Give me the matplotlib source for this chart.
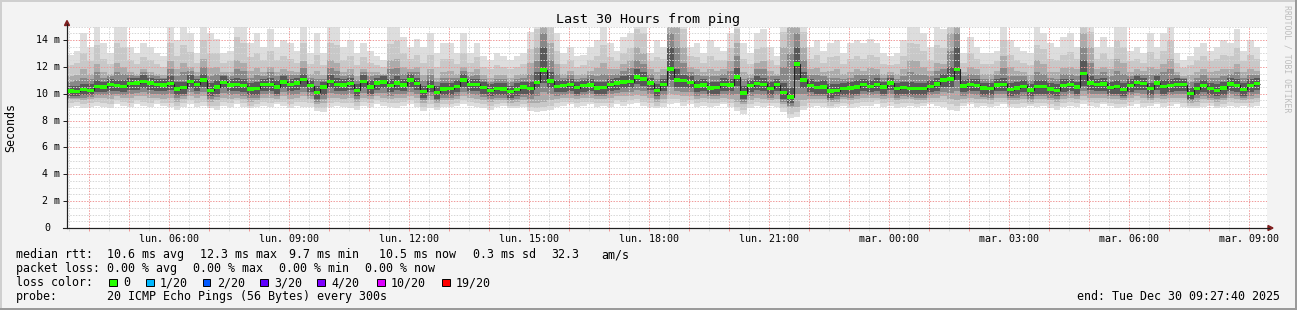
import matplotlib.pyplot as plt
import numpy as np
from matplotlib.lines import Line2D
from matplotlib.patches import Polygon, Rectangle
from matplotlib.ticker import MultipleLocator, FuncFormatter
import matplotlib.transforms as mtransforms

# --- Data: round-trip times in ms, one value per 10-minute step ---
end_hour = 24 + 9 + 27 / 60 + 40 / 3600   # Tue 09:27:40, hours since Mon 00:00
span_hours = 30
step_hours = 10 / 60

median = [
    10.2, 10.17, 10.3, 10.25, 10.55, 10.5, 10.7, 10.6, 10.55, 10.75, 10.8, 10.9, 10.8, 10.7, 10.65,
    10.75, 10.35, 10.45, 10.9, 10.7, 11.0, 10.25, 10.5, 10.85, 10.65, 10.7, 10.6, 10.35, 10.4, 10.7,
    10.7, 10.5, 10.87, 10.7, 10.8, 11.05, 10.6, 10.1, 10.5, 10.9, 10.7, 10.65, 10.75, 10.25, 10.9,
    10.5, 10.8, 10.87, 10.6, 10.8, 10.65, 11.0, 10.75, 10.17, 10.55, 10.1, 10.35, 10.37, 10.55, 11.0,
    10.67, 10.7, 10.45, 10.25, 10.37, 10.35, 10.17, 10.3, 10.5, 10.37, 10.85, 11.75, 10.95, 10.55, 10.6,
    10.67, 10.45, 10.6, 10.65, 10.42, 10.47, 10.67, 10.8, 10.87, 10.9, 11.25, 11.1, 10.8, 10.25, 10.67,
    11.85, 11.0, 10.97, 10.85, 10.57, 10.65, 10.42, 10.47, 10.7, 10.65, 11.25, 10.05, 10.6, 10.77, 10.7,
    10.4, 10.67, 10.07, 9.75, 12.2, 11.0, 10.6, 10.47, 10.5, 10.2, 10.22, 10.37, 10.42, 10.5, 10.67,
    10.55, 10.7, 10.5, 10.8, 10.37, 10.45, 10.4, 10.37, 10.37, 10.55, 10.72, 11.0, 11.1, 11.8, 10.57,
    10.7, 10.62, 10.42, 10.37, 10.65, 10.7, 10.3, 10.42, 10.55, 10.27, 10.52, 10.52, 10.35, 10.25, 10.62,
    10.67, 10.5, 11.5, 10.8, 10.67, 10.72, 10.45, 10.52, 10.3, 10.62, 10.82, 10.75, 10.37, 10.8, 10.52,
    10.62, 10.7, 10.67, 10.0, 10.37, 10.6, 10.37, 10.25, 10.42, 10.72, 10.62, 10.32, 10.62, 10.75,
]
ping_max = [
    12.9, 13.2, 14.5, 13.5, 15.5, 13.8, 13.0, 15.5, 15.5, 13.5, 13.0, 13.8, 13.5, 13.0, 12.8,
    15.5, 14.0, 15.5, 14.5, 13.0, 15.5, 14.5, 14.1, 13.0, 13.2, 15.5, 15.5, 13.8, 14.5, 13.5,
    14.8, 13.5, 14.0, 13.8, 13.2, 15.5, 13.0, 14.5, 13.0, 15.5, 15.5, 13.5, 14.0, 13.0, 13.8,
    13.2, 12.8, 12.5, 15.5, 15.5, 14.2, 13.5, 14.1, 13.5, 14.5, 13.0, 13.8, 13.8, 13.0, 14.5,
    13.0, 13.8, 12.8, 12.5, 13.0, 12.8, 12.5, 12.8, 13.0, 14.6, 15.5, 15.5, 15.5, 14.5, 13.0,
    13.5, 12.8, 12.9, 13.5, 14.0, 15.5, 13.8, 13.2, 14.2, 14.5, 15.5, 15.5, 13.0, 14.0, 13.5,
    15.5, 15.5, 15.5, 13.5, 13.8, 13.0, 14.0, 13.5, 13.2, 14.5, 15.5, 13.8, 13.0, 14.5, 14.8,
    13.5, 12.8, 15.5, 15.5, 15.5, 15.5, 13.5, 14.0, 13.2, 13.8, 14.0, 13.0, 13.8, 14.0, 13.8,
    14.1, 13.8, 13.0, 12.8, 13.0, 14.0, 15.5, 15.5, 14.5, 13.5, 15.0, 14.8, 15.5, 15.5, 13.0,
    14.2, 13.5, 13.0, 13.0, 13.2, 15.5, 14.0, 13.5, 13.2, 13.0, 15.0, 14.5, 13.8, 13.5, 14.2,
    14.5, 13.5, 15.5, 15.5, 13.5, 14.2, 13.5, 15.5, 15.0, 13.2, 13.5, 13.0, 14.5, 13.5, 14.5,
    15.5, 13.0, 12.5, 12.8, 13.5, 13.8, 13.2, 13.5, 14.0, 13.8, 14.8, 13.2, 14.0, 13.5,
]
ping_p90 = [
    12.1, 12.3, 13.0, 12.4, 13.6, 12.6, 12.2, 13.8, 13.5, 12.5, 12.2, 12.7, 12.5, 12.2, 12.0,
    13.8, 12.8, 13.6, 13.1, 12.3, 14.0, 13.0, 13.0, 12.3, 12.4, 14.2, 13.8, 12.7, 13.0, 12.5,
    13.2, 12.5, 12.8, 12.6, 12.3, 13.8, 12.2, 12.9, 12.1, 13.8, 13.6, 12.5, 12.8, 12.1, 12.7,
    12.3, 12.1, 12.0, 13.7, 13.9, 13.0, 12.6, 12.9, 12.3, 12.9, 12.0, 12.6, 12.6, 12.2, 13.0,
    12.3, 12.7, 12.0, 11.8, 12.1, 12.0, 11.8, 12.0, 12.2, 13.3, 14.8, 15.5, 15.0, 13.2, 12.2,
    12.5, 12.0, 12.1, 12.5, 12.8, 13.6, 12.7, 12.4, 13.0, 13.4, 14.8, 14.5, 12.4, 12.7, 12.6,
    15.5, 15.5, 14.8, 12.8, 12.7, 12.3, 12.8, 12.5, 12.5, 13.4, 14.8, 12.6, 12.2, 13.3, 13.5,
    12.5, 12.1, 14.6, 15.5, 15.5, 14.6, 12.6, 12.9, 12.3, 12.7, 12.8, 12.2, 12.6, 12.8, 12.6,
    12.9, 12.7, 12.2, 12.1, 12.2, 12.8, 13.8, 13.7, 13.2, 12.5, 13.6, 13.4, 15.2, 15.5, 12.3,
    13.0, 12.6, 12.2, 12.2, 12.4, 14.0, 12.9, 12.5, 12.3, 12.1, 13.6, 13.3, 12.6, 12.5, 12.9,
    13.1, 12.6, 15.2, 14.6, 12.6, 13.0, 12.6, 13.9, 13.5, 12.4, 12.6, 12.3, 13.1, 12.6, 13.2,
    13.9, 12.3, 11.9, 12.1, 12.5, 12.8, 12.4, 12.6, 12.9, 12.8, 13.4, 12.4, 12.9, 12.6,
]
ping_p80 = [
    11.3, 11.4, 11.8, 11.5, 12.2, 11.6, 11.5, 12.3, 12.0, 11.6, 11.5, 11.8, 11.6, 11.5, 11.4,
    12.4, 11.8, 12.3, 12.0, 11.6, 12.6, 11.9, 12.0, 11.6, 11.6, 12.5, 12.3, 11.7, 11.9, 11.6,
    12.0, 11.6, 11.8, 11.7, 11.6, 12.4, 11.5, 11.7, 11.4, 12.5, 12.3, 11.6, 11.8, 11.3, 11.8,
    11.6, 11.6, 11.5, 12.5, 12.6, 12.0, 11.8, 12.0, 11.4, 11.8, 11.2, 11.6, 11.7, 11.5, 12.0,
    11.6, 11.8, 11.4, 11.2, 11.4, 11.4, 11.2, 11.4, 11.5, 12.3, 13.5, 15.5, 13.8, 12.2, 11.5,
    11.7, 11.4, 11.5, 11.7, 11.9, 12.3, 11.8, 11.8, 12.2, 12.5, 13.5, 13.0, 11.8, 11.6, 11.8,
    15.5, 15.5, 13.5, 12.0, 11.8, 11.6, 11.8, 11.7, 11.8, 12.4, 13.8, 11.6, 11.5, 12.3, 12.4,
    11.7, 11.5, 13.5, 15.5, 15.5, 13.5, 11.8, 11.9, 11.6, 11.7, 11.8, 11.5, 11.6, 11.8, 11.7,
    11.9, 11.8, 11.5, 11.6, 11.5, 11.8, 12.5, 12.4, 12.0, 11.7, 12.3, 12.2, 14.5, 15.5, 11.6,
    12.0, 11.8, 11.5, 11.5, 11.7, 12.8, 12.0, 11.7, 11.6, 11.4, 12.5, 12.2, 11.6, 11.6, 11.9,
    12.0, 11.8, 14.5, 13.5, 11.8, 12.0, 11.8, 12.6, 12.3, 11.6, 11.8, 11.7, 12.0, 11.8, 12.2,
    12.6, 11.6, 11.3, 11.4, 11.6, 11.8, 11.6, 11.7, 11.8, 11.8, 12.2, 11.6, 11.8, 11.7,
]
ping_p70 = [
    10.9, 11.0, 11.2, 11.1, 11.6, 11.2, 11.3, 11.6, 11.5, 11.4, 11.3, 11.6, 11.4, 11.3, 11.2,
    11.8, 11.3, 11.6, 11.7, 11.3, 12.0, 11.3, 11.5, 11.4, 11.3, 11.8, 11.7, 11.2, 11.4, 11.3,
    11.6, 11.3, 11.5, 11.4, 11.4, 11.9, 11.2, 11.1, 11.1, 11.9, 11.7, 11.3, 11.5, 11.0, 11.6,
    11.3, 11.4, 11.4, 11.8, 11.9, 11.5, 11.6, 11.6, 11.0, 11.4, 10.9, 11.2, 11.2, 11.2, 11.7,
    11.3, 11.4, 11.1, 10.9, 11.1, 11.1, 10.9, 11.1, 11.2, 11.5, 12.4, 14.5, 12.5, 11.5, 11.2,
    11.4, 11.1, 11.2, 11.4, 11.3, 11.5, 11.4, 11.5, 11.7, 11.9, 12.5, 12.2, 11.5, 11.1, 11.4,
    14.5, 13.5, 12.3, 11.6, 11.4, 11.3, 11.3, 11.3, 11.5, 11.7, 12.8, 11.1, 11.2, 11.8, 11.8,
    11.3, 11.3, 12.0, 13.0, 14.5, 12.5, 11.4, 11.4, 11.3, 11.2, 11.2, 11.1, 11.2, 11.4, 11.4,
    11.4, 11.5, 11.2, 11.4, 11.1, 11.3, 11.6, 11.5, 11.4, 11.3, 11.7, 11.8, 13.2, 14.5, 11.3,
    11.5, 11.4, 11.1, 11.1, 11.4, 11.9, 11.3, 11.3, 11.3, 11.0, 11.6, 11.5, 11.2, 11.1, 11.5,
    11.5, 11.3, 13.5, 12.3, 11.4, 11.6, 11.3, 11.7, 11.5, 11.3, 11.5, 11.4, 11.4, 11.5, 11.6,
    11.8, 11.4, 11.2, 10.9, 11.2, 11.4, 11.2, 11.2, 11.3, 11.5, 11.6, 11.2, 11.4, 11.4,
]
ping_p60 = [
    10.6, 10.6, 10.7, 10.7, 11.0, 10.9, 11.1, 11.0, 11.0, 11.2, 11.2, 11.4, 11.2, 11.1, 11.1,
    11.3, 10.9, 10.9, 11.4, 11.1, 11.5, 10.8, 11.0, 11.3, 11.1, 11.2, 11.1, 10.8, 10.9, 11.1,
    11.2, 11.0, 11.3, 11.1, 11.2, 11.5, 11.0, 10.6, 10.9, 11.4, 11.2, 11.1, 11.2, 10.7, 11.4,
    11.0, 11.2, 11.3, 11.1, 11.3, 11.1, 11.5, 11.2, 10.6, 11.0, 10.6, 10.8, 10.8, 11.0, 11.5,
    11.1, 11.1, 10.9, 10.7, 10.8, 10.8, 10.6, 10.8, 10.9, 10.9, 11.6, 13.5, 11.6, 11.0, 11.0,
    11.1, 10.9, 11.0, 11.1, 10.9, 10.9, 11.1, 11.2, 11.3, 11.4, 11.8, 11.6, 11.2, 10.7, 11.1,
    13.5, 11.8, 11.4, 11.3, 11.0, 11.1, 10.9, 10.9, 11.2, 11.1, 11.9, 10.6, 11.0, 11.3, 11.2,
    10.9, 11.1, 10.8, 10.5, 13.5, 11.6, 11.1, 10.9, 11.0, 10.7, 10.7, 10.8, 10.9, 11.0, 11.1,
    11.0, 11.2, 10.9, 11.2, 10.8, 10.9, 10.9, 10.8, 10.8, 11.0, 11.2, 11.5, 12.0, 13.5, 11.0,
    11.1, 11.1, 10.8, 10.8, 11.1, 11.2, 10.8, 10.9, 11.0, 10.7, 11.0, 11.0, 10.8, 10.7, 11.1,
    11.1, 10.9, 12.5, 11.3, 11.1, 11.2, 10.9, 11.0, 10.8, 11.1, 11.3, 11.2, 10.8, 11.3, 11.0,
    11.1, 11.2, 11.1, 10.5, 10.8, 11.0, 10.8, 10.7, 10.9, 11.2, 11.1, 10.8, 11.1, 11.2,
]
ping_p40 = [
    9.8, 9.8, 9.9, 9.9, 10.1, 10.1, 10.2, 10.2, 10.1, 10.3, 10.3, 10.4, 10.3, 10.2, 10.2,
    10.3, 9.9, 10.0, 10.4, 10.2, 10.5, 9.8, 10.0, 10.4, 10.2, 10.2, 10.1, 9.9, 9.9, 10.2,
    10.2, 10.0, 10.4, 10.2, 10.3, 10.5, 10.1, 9.6, 9.9, 10.4, 10.2, 10.2, 10.3, 9.8, 10.4,
    10.0, 10.3, 10.4, 10.1, 10.3, 10.2, 10.5, 10.3, 9.7, 10.1, 9.6, 9.9, 9.9, 10.1, 10.5,
    10.2, 10.2, 10.0, 9.8, 9.9, 9.9, 9.7, 9.8, 10.0, 9.9, 10.4, 10.8, 10.4, 10.1, 10.1,
    10.2, 10.0, 10.1, 10.2, 10.0, 10.0, 10.2, 10.3, 10.4, 10.4, 10.7, 10.6, 10.3, 9.8, 10.2,
    11.0, 10.5, 10.5, 10.4, 10.1, 10.2, 10.0, 10.0, 10.2, 10.2, 10.6, 9.6, 10.1, 10.3, 10.2,
    9.9, 10.2, 9.6, 9.3, 11.0, 10.4, 10.1, 10.0, 10.0, 9.7, 9.8, 9.9, 9.9, 10.0, 10.2,
    10.1, 10.2, 10.0, 10.3, 9.9, 10.0, 9.9, 9.9, 9.9, 10.1, 10.2, 10.5, 10.5, 11.0, 10.1,
    10.2, 10.2, 9.9, 9.9, 10.2, 10.2, 9.8, 9.9, 10.1, 9.8, 10.0, 10.0, 9.9, 9.8, 10.1,
    10.2, 10.0, 10.6, 10.3, 10.2, 10.2, 10.0, 10.0, 9.8, 10.1, 10.3, 10.3, 9.9, 10.3, 10.0,
    10.1, 10.2, 10.2, 9.6, 9.9, 10.1, 9.9, 9.8, 9.9, 10.2, 10.1, 9.8, 10.1, 10.3,
]
ping_p30 = [
    9.7, 9.7, 9.7, 9.75, 9.9, 9.9, 9.9, 10.0, 9.9, 10.0, 10.05, 10.1, 10.0, 9.95, 9.9,
    10.0, 9.65, 9.8, 10.1, 9.95, 10.15, 9.6, 9.75, 10.05, 9.9, 9.95, 9.85, 9.65, 9.7, 9.95,
    9.95, 9.8, 10.1, 9.9, 10.0, 10.15, 9.85, 9.4, 9.6, 10.05, 9.95, 9.9, 10.0, 9.6, 10.05,
    9.8, 10.05, 10.05, 9.85, 10.0, 9.95, 10.15, 10.0, 9.5, 9.8, 9.45, 9.7, 9.7, 9.85, 10.15,
    9.95, 9.9, 9.75, 9.6, 9.7, 9.7, 9.5, 9.6, 9.75, 9.6, 9.85, 10.1, 9.95, 9.85, 9.9,
    9.95, 9.8, 9.9, 9.95, 9.8, 9.8, 9.95, 10.05, 10.1, 10.1, 10.3, 10.2, 10.0, 9.6, 9.9,
    10.5, 10.2, 10.15, 10.1, 9.85, 9.95, 9.8, 9.8, 9.95, 9.9, 10.0, 9.4, 9.8, 10.0, 9.9,
    9.7, 9.9, 9.4, 9.1, 10.0, 9.95, 9.85, 9.8, 9.8, 9.55, 9.6, 9.75, 9.7, 9.8, 9.95,
    9.9, 9.95, 9.8, 10.0, 9.7, 9.8, 9.75, 9.7, 9.7, 9.9, 9.95, 10.15, 10.05, 10.2, 9.85,
    9.95, 9.9, 9.75, 9.7, 9.95, 9.95, 9.65, 9.7, 9.85, 9.6, 9.8, 9.8, 9.7, 9.6, 9.85,
    9.95, 9.8, 10.2, 10.0, 9.95, 9.95, 9.8, 9.8, 9.65, 9.9, 10.05, 10.0, 9.7, 10.0, 9.8,
    9.9, 9.95, 9.95, 9.45, 9.65, 9.85, 9.7, 9.6, 9.7, 9.95, 9.85, 9.65, 9.85, 10.0,
]
ping_p20 = [
    9.6, 9.6, 9.5, 9.6, 9.7, 9.7, 9.6, 9.8, 9.7, 9.7, 9.8, 9.8, 9.7, 9.7, 9.6,
    9.7, 9.4, 9.6, 9.8, 9.7, 9.8, 9.4, 9.5, 9.7, 9.6, 9.7, 9.6, 9.4, 9.5, 9.7,
    9.7, 9.6, 9.8, 9.6, 9.7, 9.8, 9.6, 9.2, 9.3, 9.7, 9.7, 9.6, 9.7, 9.4, 9.7,
    9.6, 9.8, 9.7, 9.6, 9.7, 9.7, 9.8, 9.7, 9.3, 9.5, 9.3, 9.5, 9.5, 9.6, 9.8,
    9.7, 9.6, 9.5, 9.4, 9.5, 9.5, 9.3, 9.4, 9.5, 9.3, 9.3, 9.4, 9.5, 9.6, 9.7,
    9.7, 9.6, 9.7, 9.7, 9.6, 9.6, 9.7, 9.8, 9.8, 9.8, 9.9, 9.8, 9.7, 9.4, 9.6,
    10.0, 9.9, 9.8, 9.8, 9.6, 9.7, 9.6, 9.6, 9.7, 9.6, 9.4, 9.2, 9.5, 9.7, 9.6,
    9.5, 9.6, 9.2, 8.9, 9.0, 9.5, 9.6, 9.6, 9.6, 9.4, 9.4, 9.6, 9.5, 9.6, 9.7,
    9.7, 9.7, 9.6, 9.7, 9.5, 9.6, 9.6, 9.5, 9.5, 9.7, 9.7, 9.8, 9.6, 9.5, 9.6,
    9.7, 9.6, 9.6, 9.5, 9.7, 9.7, 9.5, 9.5, 9.6, 9.4, 9.6, 9.6, 9.5, 9.4, 9.6,
    9.7, 9.6, 9.8, 9.7, 9.7, 9.7, 9.6, 9.6, 9.5, 9.7, 9.8, 9.7, 9.5, 9.7, 9.6,
    9.7, 9.7, 9.7, 9.3, 9.4, 9.6, 9.5, 9.4, 9.5, 9.7, 9.6, 9.5, 9.6, 9.7,
]
ping_p10 = [
    9.3, 9.4, 9.2, 9.3, 9.4, 9.3, 9.2, 9.5, 9.4, 9.3, 9.5, 9.4, 9.3, 9.5, 9.3,
    9.3, 9.1, 9.3, 9.5, 9.3, 9.4, 9.1, 9.1, 9.4, 9.3, 9.5, 9.3, 9.1, 9.2, 9.4,
    9.3, 9.4, 9.4, 9.2, 9.4, 9.4, 9.3, 8.9, 8.9, 9.3, 9.4, 9.3, 9.3, 9.1, 9.4,
    9.3, 9.5, 9.4, 9.3, 9.3, 9.4, 9.5, 9.3, 9.0, 9.2, 9.0, 9.2, 9.2, 9.3, 9.5,
    9.4, 9.3, 9.2, 9.1, 9.2, 9.3, 9.1, 9.1, 9.2, 9.0, 8.9, 9.0, 9.1, 9.3, 9.4,
    9.4, 9.3, 9.4, 9.4, 9.3, 9.3, 9.3, 9.5, 9.4, 9.5, 9.6, 9.4, 9.3, 9.1, 9.3,
    9.6, 9.6, 9.4, 9.5, 9.3, 9.4, 9.3, 9.3, 9.4, 9.3, 9.0, 8.8, 9.2, 9.4, 9.3,
    9.3, 9.3, 8.9, 8.5, 8.6, 9.1, 9.3, 9.3, 9.3, 9.1, 9.2, 9.3, 9.2, 9.3, 9.4,
    9.4, 9.5, 9.3, 9.4, 9.2, 9.3, 9.3, 9.2, 9.3, 9.4, 9.4, 9.4, 9.2, 9.1, 9.3,
    9.4, 9.3, 9.3, 9.2, 9.4, 9.4, 9.2, 9.2, 9.3, 9.2, 9.3, 9.3, 9.2, 9.1, 9.3,
    9.4, 9.3, 9.5, 9.4, 9.3, 9.4, 9.3, 9.2, 9.2, 9.4, 9.5, 9.3, 9.3, 9.4, 9.3,
    9.4, 9.4, 9.3, 9.1, 9.1, 9.3, 9.3, 9.1, 9.2, 9.4, 9.3, 9.3, 9.3, 9.4,
]
ping_min = [
    9.0, 9.1, 8.9, 9.0, 9.1, 9.0, 8.9, 9.2, 9.1, 9.0, 9.2, 9.1, 9.0, 9.2, 9.1,
    9.0, 8.8, 9.0, 9.2, 9.0, 9.1, 8.9, 8.8, 9.1, 9.0, 9.2, 9.0, 8.9, 9.0, 9.1,
    9.0, 9.2, 9.1, 8.9, 9.1, 9.0, 9.0, 8.7, 8.6, 9.0, 9.1, 9.0, 8.9, 8.8, 9.1,
    9.0, 9.2, 9.1, 9.0, 8.9, 9.1, 9.2, 9.0, 8.7, 8.9, 8.8, 9.0, 9.0, 9.1, 9.2,
    9.1, 9.0, 8.9, 8.8, 9.0, 9.1, 8.9, 8.9, 9.0, 8.7, 8.6, 8.7, 8.8, 9.0, 9.1,
    9.2, 9.0, 9.1, 9.2, 9.0, 9.1, 9.0, 9.2, 9.1, 9.2, 9.3, 9.1, 9.0, 8.9, 9.0,
    9.2, 9.3, 9.1, 9.2, 9.0, 9.1, 9.0, 9.1, 9.2, 9.0, 8.7, 8.5, 8.9, 9.1, 9.0,
    9.1, 9.0, 8.6, 8.2, 8.3, 8.8, 9.0, 9.1, 9.0, 8.9, 9.0, 9.1, 8.9, 9.0, 9.1,
    9.1, 9.2, 9.0, 9.1, 8.9, 9.0, 9.1, 9.0, 9.1, 9.2, 9.1, 9.0, 8.8, 8.7, 9.1,
    9.2, 9.0, 9.1, 9.0, 9.1, 9.2, 9.0, 8.9, 9.0, 9.1, 9.0, 9.1, 8.9, 8.8, 9.0,
    9.1, 9.0, 9.2, 9.1, 9.0, 9.2, 9.1, 8.9, 9.0, 9.1, 9.2, 9.0, 9.1, 9.2, 9.0,
    9.1, 9.2, 9.0, 8.9, 8.9, 9.0, 9.1, 8.9, 9.0, 9.1, 9.0, 9.1, 9.0, 9.1,
]

loss_labels = ["0", "1/20", "2/20", "3/20", "4/20", "10/20", "19/20"]
loss_colors = ["#26ff00", "#00b8ff", "#0059ff", "#5e00ff", "#7e00ff", "#dd00ff", "#ff0000"]

rtt_stats = ["10.6 ms avg", "12.3 ms max", "9.7 ms min", "10.5 ms now", "0.3 ms sd", "32.3", "am/s"]
loss_stats = ["0.00 % avg", "0.00 % max", "0.00 % min", "0.00 % now"]
day_names = ["lun.", "mar."]

# --- Layout helpers (pixel coordinates of the 1297x310 canvas) ---
W, H = 1297, 310
plt.rcParams["font.family"] = "DejaVu Sans Mono"


def fx(x):
    return x / W


def fy(y):
    return 1 - y / H


fig = plt.figure(figsize=(W / 100, H / 100), dpi=100, facecolor="#F3F3F3")
ax = fig.add_axes([fx(67), fy(228), 1200 / W, 201.5 / H])
ax.set_facecolor("white")

start_hour = end_hour - span_hours
edges = start_hour + np.arange(len(median) + 1) * step_hours
med = np.array(median)

# smoke: pairs of ping ranks, lightest outside
smoke = [
    (ping_max, ping_min, "#DDDDDD"),
    (ping_p90, ping_p10, "#C8C8C8"),
    (ping_p80, ping_p20, "#ABABAB"),
    (ping_p70, ping_p30, "#888888"),
    (ping_p60, ping_p40, "#585858"),
]
for k, (top, bot, col) in enumerate(smoke):
    ax.stairs(top, edges, baseline=bot, fill=True, color=col, lw=0, zorder=1 + k * 0.1)

# median line + loss-coloured marker
ax.stairs(med, edges, baseline=None, color="#202020", lw=0.8, zorder=3)
ax.stairs(med + 0.13, edges, baseline=med - 0.13, fill=True, color=loss_colors[0], lw=0, zorder=4)

ax.set_xlim(start_hour, end_hour)
ax.set_ylim(0, 15)


def hour_label(h, pos):
    h = int(round(h))
    if h % 3:
        return ""
    return f"{day_names[h // 24]} {h % 24:02d}:00"


ax.xaxis.set_major_locator(MultipleLocator(1))
ax.xaxis.set_minor_locator(MultipleLocator(0.5))
ax.xaxis.set_major_formatter(FuncFormatter(hour_label))
ax.yaxis.set_major_locator(MultipleLocator(2))
ax.yaxis.set_minor_locator(MultipleLocator(0.5))
ax.yaxis.set_major_formatter(FuncFormatter(lambda v, p: ""))

ax.set_axisbelow(False)
ax.grid(which="major", color="#F09A9A", ls=(0, (1.4, 1.4)), lw=0.72, snap=True)
ax.grid(which="minor", color="#D6D6D6", ls=(0, (1.4, 1.4)), lw=0.72, snap=True)

ax.tick_params(axis="x", which="major", length=2, width=0.72, color="#F09A9A",
               labelsize=7.2, pad=2.4)
ax.tick_params(axis="x", which="minor", length=2, width=0.72, color="#D6D6D6")
ax.tick_params(axis="y", which="major", length=3, width=0.72, color="#202020")
ax.tick_params(axis="y", which="minor", length=0)

# y tick labels placed like rrdtool ("0" without unit)
ylab_tr = mtransforms.blended_transform_factory(ax.transAxes, ax.transData)
for v in range(0, 15, 2):
    txt = "0" if v == 0 else f"{v} m"
    off = 17 if v == 0 else 7
    ax.text(-off / 1200, v, txt, transform=ylab_tr, ha="right", va="center", fontsize=7.2)

for side in ("top", "right"):
    ax.spines[side].set_visible(False)
for side in ("left", "bottom"):
    ax.spines[side].set_color("#202020")
    ax.spines[side].set_linewidth(0.8)

# axis extensions and arrows
arrow_col = "#7F1F1F"
fig.add_artist(Line2D([fx(67), fx(67)], [fy(228), fy(24)], color="#202020", lw=0.8))
fig.add_artist(Line2D([fx(63), fx(1269)], [fy(228), fy(228)], color="#202020", lw=0.8))
fig.add_artist(Polygon([[fx(64.5), fy(25.5)], [fx(69.5), fy(25.5)], [fx(67), fy(20.5)]],
                       closed=True, color=arrow_col, transform=fig.transFigure))
fig.add_artist(Polygon([[fx(1268), fy(225.5)], [fx(1268), fy(230.5)], [fx(1273), fy(228)]],
                       closed=True, color=arrow_col, transform=fig.transFigure))

# titles
fig.text(fx(648), fy(23), "Last 30 Hours from ping", ha="center", va="baseline", fontsize=9.6)
fig.text(fx(11), fy(127), "Seconds", rotation=90, ha="center", va="center", fontsize=8.4)
fig.text(fx(1287), fy(59), "RRDTOOL / TOBI OETIKER", rotation=270, ha="center", va="center",
         fontsize=5.9, color="#BDBDBD")

# legend
LS = 8.4
fig.text(fx(16), fy(258), "median rtt:", fontsize=LS, va="baseline")
for x, s in zip([107, 200, 289, 379, 473, 551, 601], rtt_stats):
    fig.text(fx(x), fy(258), s, fontsize=LS, va="baseline")

fig.text(fx(16), fy(272), "packet loss:", fontsize=LS, va="baseline")
for x, s in zip([107, 193, 279, 365], loss_stats):
    fig.text(fx(x), fy(272), s, fontsize=LS, va="baseline")

fig.text(fx(16), fy(286), "loss color:", fontsize=LS, va="baseline")
for x, lab, col in zip([109, 146, 203, 260, 317, 377, 442], loss_labels, loss_colors):
    fig.add_artist(Rectangle((fx(x), fy(286)), 7.5 / W, 7.5 / H, transform=fig.transFigure,
                             facecolor=col, edgecolor="black", lw=0.7))
    fig.text(fx(x + 14), fy(286), lab, fontsize=LS, va="baseline")

fig.text(fx(16), fy(300), "probe:", fontsize=LS, va="baseline")
fig.text(fx(107), fy(300), "20 ICMP Echo Pings (56 Bytes) every 300s", fontsize=LS, va="baseline")
fig.text(fx(1280), fy(300), "end: Tue Dec 30 09:27:40 2025", fontsize=LS, va="baseline", ha="right")

# shaded frame
fig.add_artist(Rectangle((0, fy(2)), 1, 2 / H, transform=fig.transFigure, color="#CFCFCF", lw=0))
fig.add_artist(Rectangle((0, 0), 2 / W, 1, transform=fig.transFigure, color="#CFCFCF", lw=0))
fig.add_artist(Rectangle((0, 0), 1, 2 / H, transform=fig.transFigure, color="#9A9A9A", lw=0))
fig.add_artist(Rectangle((fx(1295), 0), 2 / W, 1, transform=fig.transFigure, color="#9A9A9A", lw=0))

fig.savefig("out.png", dpi=100, facecolor=fig.get_facecolor())
